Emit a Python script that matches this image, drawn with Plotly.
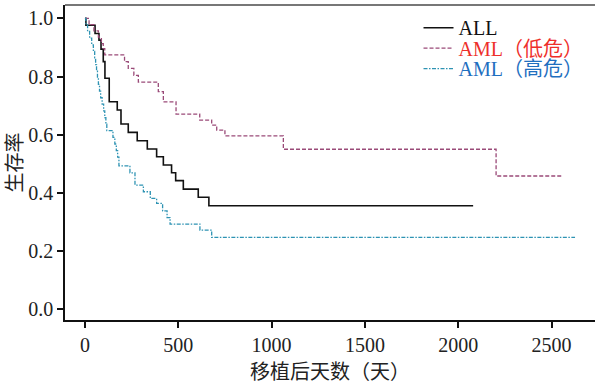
import plotly.graph_objects as go

# ALL
all_t = [0, 5, 54, 75, 86, 98, 107, 130, 173, 193, 232, 280, 334, 384, 420, 464, 486, 527, 607, 664, 2080]
all_s = [1.0, 0.976, 0.948, 0.925, 0.894, 0.851, 0.794, 0.713, 0.685, 0.637, 0.608, 0.579, 0.551, 0.524,
         0.496, 0.469, 0.442, 0.413, 0.385, 0.356, 0.356]

# AML low risk
low_t = [0, 22, 48, 72, 88, 98, 106, 212, 232, 262, 286, 393, 420, 488, 615, 679, 706, 750, 1063, 2203, 2563]
low_s = [1.0, 0.978, 0.957, 0.935, 0.913, 0.896, 0.874, 0.851, 0.828, 0.804, 0.781, 0.748, 0.713, 0.671,
         0.650, 0.633, 0.616, 0.596, 0.550, 0.458, 0.458]

# AML high risk
high_t = [0, 5, 14, 25, 36, 45, 52, 57, 62, 67, 72, 78, 84, 92, 100, 106, 112, 117, 150, 160, 168, 175,
          182, 241, 268, 313, 350, 384, 416, 440, 456, 616, 679, 2626]
high_s = [1.0, 0.977, 0.955, 0.932, 0.909, 0.886, 0.864, 0.841, 0.818, 0.795, 0.773, 0.750, 0.727, 0.705,
          0.682, 0.659, 0.636, 0.614, 0.591, 0.568, 0.545, 0.523, 0.493, 0.469, 0.427, 0.404, 0.381, 0.364,
          0.338, 0.315, 0.293, 0.272, 0.247, 0.247]

series_names = ["ALL", "AML（低危）", "AML（高危）"]

x_ticks = [0, 500, 1000, 1500, 2000, 2500]
y_ticks = [0.0, 0.2, 0.4, 0.6, 0.8, 1.0]
y_tick_labels = ["0.0", "0.2", "0.4", "0.6", "0.8", "1.0"]

FONT = "Liberation Serif, Times New Roman, Noto Sans CJK SC, serif"

fig = go.Figure()
fig.add_trace(go.Scatter(x=all_t, y=all_s, mode="lines", line_shape="hv",
                         line=dict(color="#111111", width=1.6),
                         name=series_names[0], legend="legend"))
fig.add_trace(go.Scatter(x=low_t, y=low_s, mode="lines", line_shape="hv",
                         line=dict(color="#9a4a78", width=1.3, dash="4px,2px"),
                         name=series_names[1], legend="legend2"))
fig.add_trace(go.Scatter(x=high_t, y=high_s, mode="lines", line_shape="hv",
                         line=dict(color="#2e93b3", width=1.3, dash="4px,1.5px,1.5px,1.5px"),
                         name=series_names[2], legend="legend3"))


def leg(y, color):
    return dict(x=0.667, y=y, xanchor="left", yanchor="middle", bgcolor="rgba(0,0,0,0)",
                font=dict(size=20, family=FONT, color=color), itemwidth=30)


fig.update_layout(
    width=595, height=385,
    margin=dict(l=65, r=0, t=5, b=65),
    paper_bgcolor="white", plot_bgcolor="white",
    font=dict(family=FONT, size=20, color="#222222"),
    showlegend=True,
    legend=leg(0.928, "#111111"),
    legend2=leg(0.863, "#ee2f2a"),
    legend3=leg(0.798, "#1f6fbf"),
    xaxis=dict(range=[-107, 2733], tickvals=x_ticks, ticks="outside", ticklen=6, tickwidth=1.5,
               tickcolor="#111111", showline=True, linecolor="#111111", linewidth=1.5,
               showgrid=False, zeroline=False, tickfont=dict(size=20, family=FONT),
               title=dict(text="移植后天数（天）", font=dict(size=20, family=FONT), standoff=10)),
    yaxis=dict(range=[-0.0368, 1.0457], tickvals=y_ticks, ticktext=y_tick_labels, ticks="outside",
               ticklen=6, tickwidth=1.5, tickcolor="#111111", showline=True, linecolor="#111111",
               linewidth=1.5, showgrid=False, zeroline=False, tickfont=dict(size=20, family=FONT),
               title=dict(text="生存率", font=dict(size=20, family=FONT), standoff=0)),
    shapes=[dict(type="line", xref="paper", yref="paper", x0=0, x1=1, y0=1, y1=1,
                 line=dict(color="#777777", width=2))],
)

fig.write_html("out.html", config={"displayModeBar": False},
               post_script="document.body.style.margin='0';document.body.style.overflow='hidden';")
